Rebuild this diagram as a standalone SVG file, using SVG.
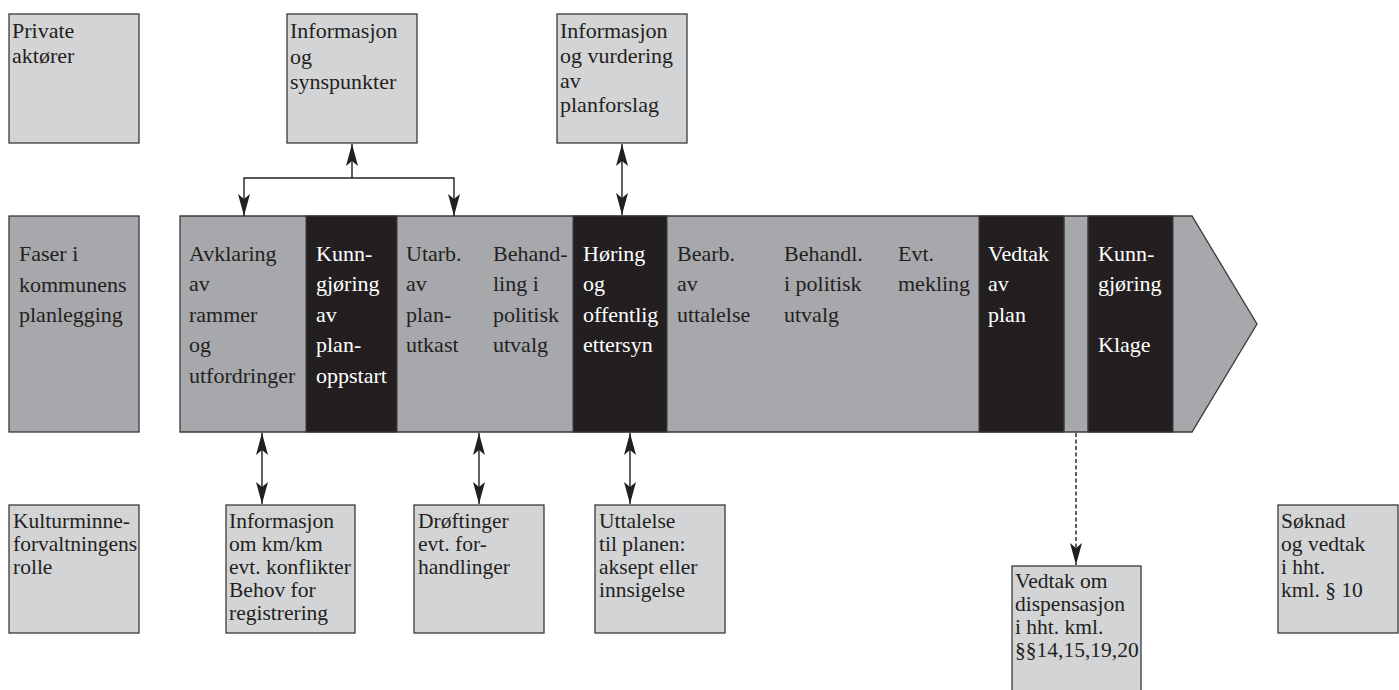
<svg xmlns="http://www.w3.org/2000/svg" width="1399" height="690" viewBox="0 0 1399 690">
<style>
text{font-family:"Liberation Serif","Times New Roman",serif;font-size:22px;fill:#231f20}
.w{fill:#ffffff}
.s{font-size:21.5px}
.lb{fill:#d3d4d6;stroke:#3a3a3a;stroke-width:1.3}
.mb{fill:#a7a8ab;stroke:#3a3a3a;stroke-width:1.3}
.bk{fill:#231f20;stroke:#3a3a3a;stroke-width:1}
.ln{fill:none;stroke:#231f20;stroke-width:1.4}
.dash{stroke-dasharray:4 2.5}
</style>
<defs>
<marker id="ah" viewBox="-23 -7 24 14" refX="0" refY="0" markerWidth="24" markerHeight="14" markerUnits="userSpaceOnUse" orient="auto-start-reverse">
<path d="M0,0 L-22,-6 L-17,0 L-22,6 Z" fill="#231f20"/>
</marker>
</defs>
<rect width="1399" height="690" fill="#ffffff"/>

<g id="private">
<rect class="lb" x="9" y="14" width="130" height="129"/>
<text x="12" y="37.5">Private</text>
<text x="12" y="63">aktører</text>
</g>
<g id="info-synspunkter">
<rect class="lb" x="287" y="14" width="130" height="129"/>
<text x="290" y="38">Informasjon</text>
<text x="290" y="63.5">og</text>
<text x="290" y="89">synspunkter</text>
</g>
<g id="info-vurdering">
<rect class="lb" x="557" y="14" width="130" height="129"/>
<text x="560" y="37.5">Informasjon</text>
<text x="560" y="62.5">og vurdering</text>
<text x="560" y="87.5">av</text>
<text x="560" y="112">planforslag</text>
</g>

<g id="faser">
<rect class="mb" x="9" y="216" width="130" height="216"/>
<text x="19" y="261">Faser i</text>
<text x="19" y="291.5">kommunens</text>
<text x="19" y="322">planlegging</text>
</g>

<g id="phases">
<polygon class="mb" points="180,216 1192,216 1257,324 1192,432 180,432"/>
<rect class="bk" x="306" y="216" width="91" height="216"/>
<rect class="bk" x="573" y="216" width="94" height="216"/>
<rect class="bk" x="979" y="216" width="85" height="216"/>
<rect class="bk" x="1088" y="216" width="85" height="216"/>
<line x1="1064" y1="216" x2="1064" y2="432" stroke="#3a3a3a" stroke-width="1"/>
<line x1="1088" y1="216" x2="1088" y2="432" stroke="#3a3a3a" stroke-width="1"/>
<g id="p1">
<text x="189" y="260.5">Avklaring</text>
<text x="189" y="291">av</text>
<text x="189" y="321.5">rammer</text>
<text x="189" y="352">og</text>
<text x="189" y="382.5">utfordringer</text>
</g>
<g id="p2">
<text class="w" x="316" y="260.5">Kunn-</text>
<text class="w" x="316" y="291">gjøring</text>
<text class="w" x="316" y="321.5">av</text>
<text class="w" x="316" y="352">plan-</text>
<text class="w" x="316" y="382.5">oppstart</text>
</g>
<g id="p3">
<text x="406" y="260.5">Utarb.</text>
<text x="406" y="291">av</text>
<text x="406" y="321.5">plan-</text>
<text x="406" y="352">utkast</text>
</g>
<g id="p4">
<text x="493" y="260.5">Behand-</text>
<text x="493" y="291">ling i</text>
<text x="493" y="321.5">politisk</text>
<text x="493" y="352">utvalg</text>
</g>
<g id="p5">
<text class="w" x="583" y="260.5">Høring</text>
<text class="w" x="583" y="291">og</text>
<text class="w" x="583" y="321.5">offentlig</text>
<text class="w" x="583" y="352">ettersyn</text>
</g>
<g id="p6">
<text x="677" y="260.5">Bearb.</text>
<text x="677" y="291">av</text>
<text x="677" y="321.5">uttalelse</text>
</g>
<g id="p7">
<text x="784" y="260.5">Behandl.</text>
<text x="784" y="291">i politisk</text>
<text x="784" y="321.5">utvalg</text>
</g>
<g id="p8">
<text x="898" y="260.5">Evt.</text>
<text x="898" y="291">mekling</text>
</g>
<g id="p9">
<text class="w" x="988" y="260.5">Vedtak</text>
<text class="w" x="988" y="291">av</text>
<text class="w" x="988" y="321.5">plan</text>
</g>
<g id="p10">
<text class="w" x="1098" y="260.5">Kunn-</text>
<text class="w" x="1098" y="291">gjøring</text>
<text class="w" x="1098" y="352">Klage</text>
</g>
</g>

<g id="kulturminne">
<rect class="lb" x="9" y="505" width="130" height="128"/>
<text class="s" x="13" y="528">Kulturminne-</text>
<text class="s" x="13" y="551">forvaltningens</text>
<text class="s" x="13" y="574">rolle</text>
</g>
<g id="info-km">
<rect class="lb" x="226" y="505" width="129" height="128"/>
<text class="s" x="229" y="528">Informasjon</text>
<text class="s" x="229" y="551">om km/km</text>
<text class="s" x="229" y="574">evt. konflikter</text>
<text class="s" x="229" y="597">Behov for</text>
<text class="s" x="229" y="620">registrering</text>
</g>
<g id="droftinger">
<rect class="lb" x="414" y="505" width="130" height="128"/>
<text class="s" x="418" y="528">Drøftinger</text>
<text class="s" x="418" y="551">evt. for-</text>
<text class="s" x="418" y="574">handlinger</text>
</g>
<g id="uttalelse">
<rect class="lb" x="595" y="505" width="130" height="128"/>
<text class="s" x="599" y="528">Uttalelse</text>
<text class="s" x="599" y="551">til planen:</text>
<text class="s" x="599" y="574">aksept eller</text>
<text class="s" x="599" y="597">innsigelse</text>
</g>
<g id="vedtak-dispensasjon">
<rect class="lb" x="1012" y="566" width="129" height="130"/>
<text class="s" x="1015" y="588">Vedtak om</text>
<text class="s" x="1015" y="611">dispensasjon</text>
<text class="s" x="1015" y="634">i hht. kml.</text>
<text class="s" x="1015" y="657">§§14,15,19,20</text>
</g>
<g id="soknad">
<rect class="lb" x="1278" y="505" width="120" height="128"/>
<text class="s" x="1281" y="528">Søknad</text>
<text class="s" x="1281" y="551">og vedtak</text>
<text class="s" x="1281" y="574">i hht.</text>
<text class="s" x="1281" y="597">kml. § 10</text>
</g>

<g id="connectors">
<line class="ln" x1="352" y1="178" x2="352" y2="144" marker-end="url(#ah)"/>
<polyline class="ln" points="244,216 244,178 454,178 454,216" marker-start="url(#ah)" marker-end="url(#ah)"/>
<line class="ln" x1="622" y1="144" x2="622" y2="215" marker-start="url(#ah)" marker-end="url(#ah)"/>
<line class="ln" x1="262" y1="433" x2="262" y2="504" marker-start="url(#ah)" marker-end="url(#ah)"/>
<line class="ln" x1="479" y1="433" x2="479" y2="504" marker-start="url(#ah)" marker-end="url(#ah)"/>
<line class="ln" x1="630" y1="433" x2="630" y2="504" marker-start="url(#ah)" marker-end="url(#ah)"/>
<line class="ln dash" x1="1076" y1="433" x2="1076" y2="565" marker-end="url(#ah)"/>
</g>
</svg>
